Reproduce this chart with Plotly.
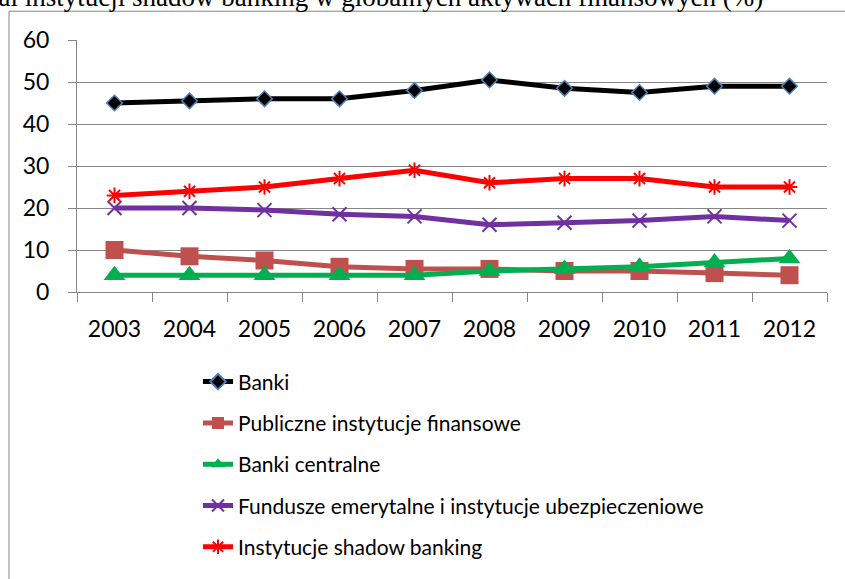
import plotly.graph_objects as go

years = ["2003", "2004", "2005", "2006", "2007", "2008", "2009", "2010", "2011", "2012"]
banki = [45, 45.5, 46, 46, 48, 50.5, 48.5, 47.5, 49, 49]
publiczne = [10, 8.5, 7.5, 6, 5.5, 5.5, 5, 5, 4.5, 4]
banki_centralne = [4, 4, 4, 4, 4, 5, 5.5, 6, 7, 8]
fundusze = [20, 20, 19.5, 18.5, 18, 16, 16.5, 17, 18, 17]
shadow = [23, 24, 25, 27, 29, 26, 27, 27, 25, 25]

names = ["Banki", "Publiczne instytucje finansowe", "Banki centralne",
         "Fundusze emerytalne i instytucje ubezpieczeniowe", "Instytucje shadow banking"]
title_text = "Udział instytucji shadow banking w globalnych aktywach finansowych (%)"

W, H = 845, 579
L, R, T, B = 77, 18, 40, 285
pw, ph = W - L - R, H - T - B

def px_x(p):
    return (p - L) / pw

def px_y(p):
    return (H - B - p) / ph

fig = go.Figure()

series = [
    (banki, names[0], "#000000", dict(symbol="diamond", size=12, color="#000000",
                                      line=dict(color="#4f81bd", width=1.5))),
    (publiczne, names[1], "#c0504d", dict(symbol="square", size=18, color="#c0504d",
                                          line=dict(color="#c0504d", width=0))),
    (banki_centralne, names[2], "#00b050", dict(symbol="triangle-up", size=19, color="#00b050",
                                                line=dict(color="#00b050", width=0))),
    (fundusze, names[3], "#7030a0", dict(symbol="x-thin-open", size=14, color="#7030a0",
                                         line=dict(color="#7030a0", width=2))),
    (shadow, names[4], "#ff0000", dict(symbol="asterisk-open", size=13, color="#ff0000",
                                       line=dict(color="#ff0000", width=2))),
]

for i, (vals, nm, col, mk) in enumerate(series):
    fig.add_trace(go.Scatter(
        x=years, y=vals, name=nm, mode="lines+markers",
        line=dict(color=col, width=5), marker=mk,
        legendgroup=f"g{i}",
    ))

fig.update_layout(
    width=W, height=H,
    margin=dict(l=L, r=R, t=T, b=B, pad=0),
    paper_bgcolor="white", plot_bgcolor="white",
    font=dict(family="Lato", size=23, color="#000000"),
    showlegend=True,
    legend=dict(
        x=px_x(198), y=px_y(364), xanchor="left", yanchor="top",
        orientation="v", font=dict(family="Lato", size=21, color="#000000"),
        tracegroupgap=11, bgcolor="rgba(0,0,0,0)", itemsizing="constant",
        traceorder="grouped",
    ),
    xaxis=dict(
        type="category", showgrid=False, showline=True, linecolor="#868686", linewidth=1,
        ticks="outside", ticklen=9, tickcolor="#868686", tickson="boundaries",
        ticklabelstandoff=16, tickfont=dict(family="Lato", size=23),
        range=[-0.5, 9.5], zeroline=False,
    ),
    yaxis=dict(
        range=[0, 60], dtick=10, showgrid=True, gridcolor="#868686", gridwidth=1,
        showline=True, linecolor="#868686", linewidth=1, ticks="outside", ticklen=8,
        tickcolor="#868686", ticklabelstandoff=14, tickfont=dict(family="Lato", size=23),
        zeroline=False,
    ),
    shapes=[dict(
        type="rect", xref="paper", yref="paper",
        x0=px_x(9), x1=px_x(W + 20), y0=px_y(H + 20), y1=px_y(11),
        line=dict(color="#868686", width=1), fillcolor="rgba(0,0,0,0)", layer="below",
    )],
    annotations=[dict(
        text=title_text, xref="paper", yref="paper",
        x=px_x(765), y=px_y(-3), xanchor="right", yanchor="middle",
        showarrow=False, font=dict(family="Liberation Serif", size=27, color="#000000"),
    )],
)

fig.write_html("out.html", config={"displayModeBar": False},
               post_script="document.body.style.margin='0';")
